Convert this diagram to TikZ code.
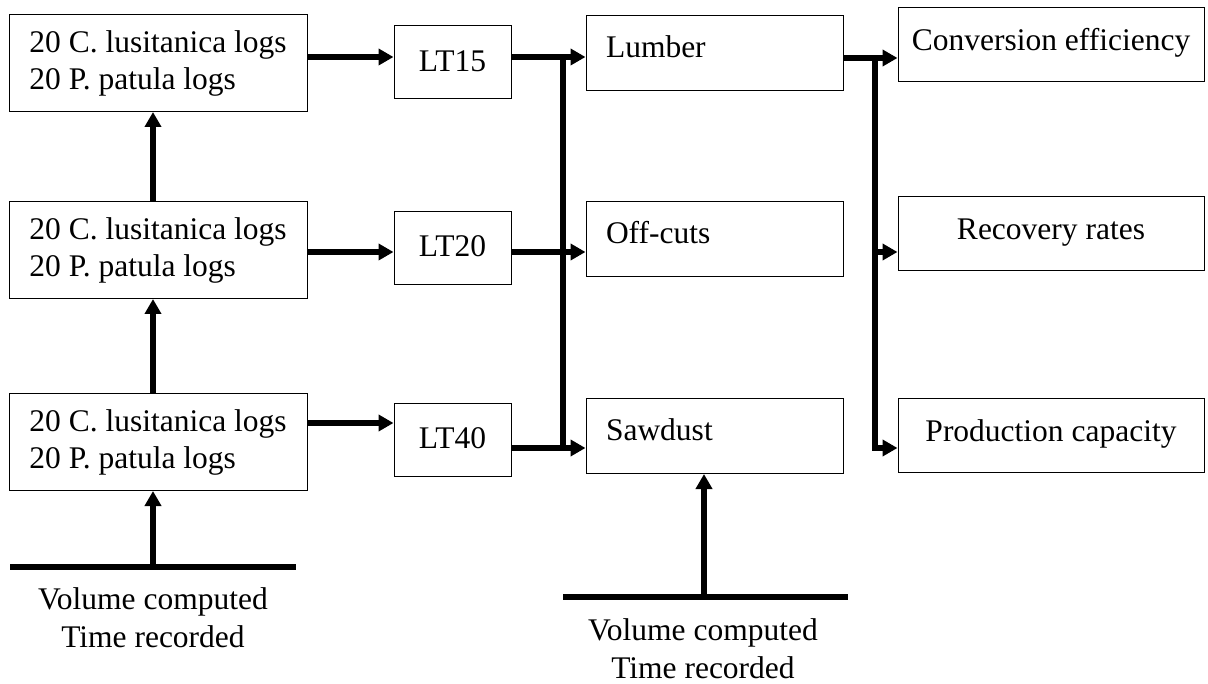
\documentclass[tikz,border=0pt]{standalone}
\usepackage{fontspec}
\setmainfont{Liberation Serif}
\usetikzlibrary{arrows.meta}
\begin{document}
\begin{tikzpicture}[x=1pt,y=-1pt,
  every node/.style={font=\fontsize{31.5}{37}\selectfont},
  box/.style={draw, line width=1pt, inner sep=0pt},
  lbox/.style={box, minimum width=298pt, minimum height=97pt, align=left},
  ltbox/.style={box, minimum width=117pt, minimum height=73pt, text height=22pt, text depth=4pt, align=center},
  mbox/.style={box, minimum width=257pt, minimum height=75pt, text width=217pt, align=left, text height=22pt, text depth=13pt},
  rbox/.style={box, minimum width=306pt, minimum height=74pt, text height=22pt, text depth=9pt, align=center},
  arr/.style={line width=5.5pt, -{Triangle[length=15pt,width=16pt]}},
  bar/.style={line width=5.5pt, line cap=rect},
  note/.style={align=center, font=\fontsize{31.5}{38}\selectfont}]
\useasboundingbox (0,0) rectangle (1208,684);

% left boxes
\node[lbox] (b1) at (158,63) {20 C. lusitanica logs\\20 P. patula logs};
\node[lbox] (b2) at (158,250) {20 C. lusitanica logs\\20 P. patula logs};
\node[lbox] (b3) at (158,442) {20 C. lusitanica logs\\20 P. patula logs};

% LT boxes
\node[ltbox] (lt15) at (452.5,62.5) {LT15};
\node[ltbox] (lt20) at (452.5,248) {LT20};
\node[ltbox] (lt40) at (452.5,440) {LT40};

% middle boxes
\node[mbox] (lumber) at (714.5,53.5) {Lumber};
\node[mbox] (offcuts) at (714.5,239.5) {Off-cuts};
\node[mbox] (sawdust) at (714.5,436) {Sawdust};

% right boxes
\node[rbox] (conv) at (1051,44.5) {Conversion efficiency};
\node[rbox] (recov) at (1051,233.5) {Recovery rates};
\node[rbox] (prod) at (1051,435.5) {Production capacity};

% helper coordinates
\coordinate (y1) at (0,57);
\coordinate (y2) at (0,252);
\coordinate (y3) at (0,423);
\coordinate (y4) at (0,448);
\coordinate (bus1top) at (563,57);
\coordinate (bus1bot) at (563,448);
\coordinate (bus2top) at (875,58);
\coordinate (bus2bot) at (875,448);
\coordinate (bus2mid) at (875,252);

% left to LT
\draw[arr] (b1.east |- y1) -- (lt15.west |- y1);
\draw[arr] (b2.east |- y2) -- (lt20.west |- y2);
\draw[arr] (b3.east |- y3) -- (lt40.west |- y3);

% LT to middle
\draw[arr] (lt15.east |- y1) -- (lumber.west |- y1);
\draw[arr] (lt20.east |- y2) -- (offcuts.west |- y2);
\draw[arr] (lt40.east |- y4) -- (sawdust.west |- y4);
\draw[bar] (bus1top) -- (bus1bot);

% middle to right
\draw[arr] (lumber.east |- bus2top) -- (conv.west |- bus2top);
\draw[bar] (bus2top) -- (bus2bot);
\draw[arr] (bus2mid) -- (recov.west |- bus2mid);
\draw[arr] (bus2bot) -- (prod.west |- bus2bot);

% vertical arrows on the left
\draw[arr] ([xshift=-5pt]b2.north) -- ([xshift=-5pt]b1.south);
\draw[arr] ([xshift=-5pt]b3.north) -- ([xshift=-5pt]b2.south);

% bottom-left base
\coordinate (la) at (10,567);
\coordinate (lb) at (296,567);
\coordinate (lm) at (153,567);
\draw[line width=5.5pt] (la) -- (lb);
\draw[arr] (lm) -- (lm |- b3.south);
\node[note] (n1) at (153,618) {Volume computed\\Time recorded};

% bottom-middle base
\coordinate (ma) at (563,597);
\coordinate (mb) at (848,597);
\coordinate (mm) at (704,597);
\draw[line width=5.5pt] (ma) -- (mb);
\draw[arr] (mm) -- (mm |- sawdust.south);
\node[note] (n2) at (703,649) {Volume computed\\Time recorded};
\end{tikzpicture}
\end{document}
